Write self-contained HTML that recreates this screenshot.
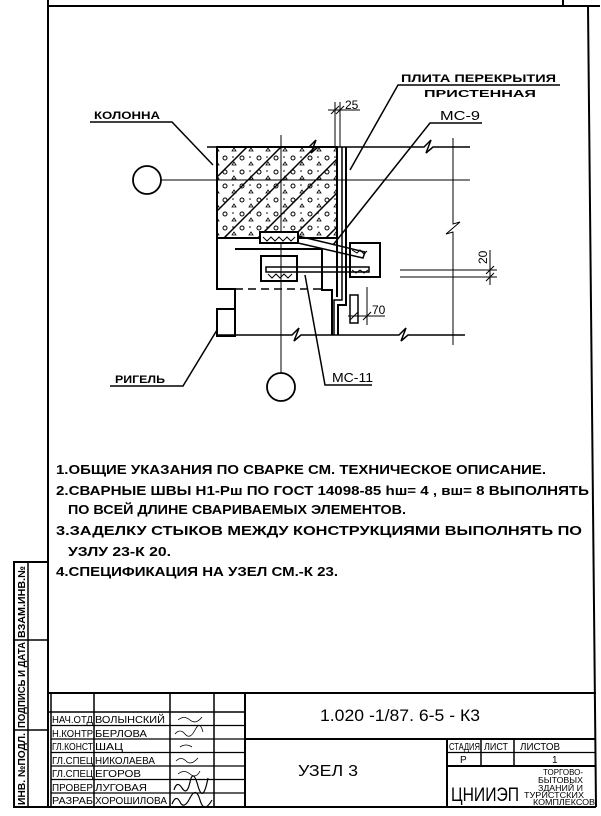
<!DOCTYPE html>
<html><head><meta charset="utf-8"><style>
html,body{margin:0;padding:0;background:#fff;}
svg{display:block;font-family:"Liberation Sans","DejaVu Sans",sans-serif;}
text{fill:#000;}
</style></head><body>
<svg width="601" height="816" viewBox="0 0 601 816" xmlns="http://www.w3.org/2000/svg">
<defs>
<pattern id="d" width="17" height="14" patternUnits="userSpaceOnUse">
<circle cx="4" cy="4" r="2" fill="none" stroke="#000" stroke-width="1"/>
<path d="M11 11 l2 -3 l2 3 z" fill="none" stroke="#000" stroke-width="0.8"/>
<circle cx="12" cy="3" r="0.8" fill="#000"/>
</pattern>
<clipPath id="cc"><rect x="217" y="147" width="120" height="91"/></clipPath>
</defs>
<g stroke="#000" fill="none" stroke-width="2">
<line x1="48" y1="6" x2="600" y2="6"/>
<line x1="48" y1="0" x2="48" y2="807"/>
<line x1="588" y1="6" x2="596" y2="807"/>
<line x1="563" y1="0" x2="563" y2="6"/>
<line x1="14" y1="807" x2="596" y2="807"/>
<rect x="14" y="562" width="34" height="245"/>
<line x1="28" y1="562" x2="28" y2="807" stroke-width="1.5"/>
<line x1="14" y1="640" x2="48" y2="640" stroke-width="1.5"/>
<line x1="14" y1="730" x2="48" y2="730" stroke-width="1.5"/>
<line x1="48" y1="693" x2="596" y2="693"/>
<line x1="48" y1="712" x2="245" y2="712" stroke-width="1.5"/>
<line x1="51" y1="693" x2="51" y2="807" stroke-width="1.5"/>
<line x1="94" y1="693" x2="94" y2="807" stroke-width="1.5"/>
<line x1="170" y1="693" x2="170" y2="807" stroke-width="1.5"/>
<line x1="214" y1="693" x2="214" y2="807" stroke-width="1.5"/>
<line x1="245" y1="693" x2="245" y2="807" stroke-width="2"/>
<g stroke-width="1.2">
<line x1="51" y1="725.5" x2="245" y2="725.5"/>
<line x1="51" y1="739" x2="245" y2="739"/>
<line x1="51" y1="752.5" x2="245" y2="752.5"/>
<line x1="51" y1="766" x2="245" y2="766"/>
<line x1="51" y1="779.5" x2="245" y2="779.5"/>
<line x1="51" y1="793" x2="245" y2="793"/>
</g>
<line x1="245" y1="739" x2="596" y2="739" stroke-width="2"/>
<line x1="447" y1="739" x2="447" y2="807" stroke-width="2"/>
<line x1="447" y1="752.5" x2="596" y2="752.5" stroke-width="1.2"/>
<line x1="447" y1="766" x2="596" y2="766" stroke-width="2"/>
<line x1="481" y1="739" x2="481" y2="766" stroke-width="1.5"/>
<line x1="514" y1="739" x2="514" y2="766" stroke-width="1.5"/>
</g>

<g stroke="#000" fill="none" stroke-width="1.5">
<rect x="217" y="147" width="120" height="91" fill="url(#d)" stroke="none"/>
<g clip-path="url(#cc)" stroke-width="1.5">
<line x1="217" y1="177" x2="247" y2="147"/>
<line x1="217" y1="211" x2="281" y2="147"/>
<line x1="217" y1="245" x2="315" y2="147"/>
<line x1="244" y1="252" x2="349" y2="147"/>
<line x1="278" y1="252" x2="383" y2="147"/>
<line x1="312" y1="252" x2="417" y2="147"/>
</g>
<rect x="217" y="147" width="120" height="91" stroke-width="2"/>
<path d="M207 147 H309 L316 140 L311 153 L318 147 H424 L431 140 L426 153 L433 147 H470"/>
<line x1="161" y1="180" x2="470" y2="180" stroke-width="1"/>
<circle cx="147" cy="180" r="14" stroke-width="1.8"/>
<line x1="281" y1="135" x2="281" y2="373" stroke-width="1"/>
<circle cx="281" cy="387" r="14" stroke-width="1.8"/>
<path d="M217 238 V289 H235 V336" stroke-width="2"/>
<rect x="217" y="309" width="18" height="27" stroke-width="2"/>
<path d="M235 249 H322 V290 H332 V335" stroke-width="2"/>
<line x1="235" y1="289" x2="322" y2="289" stroke-dasharray="8,5"/>
<path d="M337 147 V297" stroke-width="2"/>
<path d="M342 147 V300 H334 V335"/>
<path d="M346 147 V305 H338 V335" stroke-width="2"/>
<rect x="350" y="295" width="8" height="28"/>
<rect x="260" y="232" width="38" height="11" stroke-width="2" fill="#fff"/>
<path d="M263 237 l4 4 l4 -4 l4 4 l4 -4 l4 4 l4 -4 l4 4 l4 -4" stroke-width="1"/>
<path d="M298 236 L365 252 L363 258 L298 243"/>
<rect x="350" y="243" width="30" height="34" stroke-width="2"/>
<path d="M352 250 l5 3 l3 -3 l4 4 l3 -3 M352 270 l4 3 l4 -3 l4 3 l4 -3" stroke-width="1"/>
<rect x="261" y="256" width="36" height="25" stroke-width="2"/>
<rect x="266" y="267" width="103" height="5" stroke-width="1.5"/>
<path d="M268 274 l4 4 l4 -4 l4 4 l4 -4 l4 4 l4 -4" stroke-width="1"/>
<path d="M217 335 H292 L299 328 L294 341 L301 335 H399 L406 328 L401 341 L408 335 H465"/>
<path d="M453 138 V224 L460 222 L446 234 L453 232 V345" stroke-width="1"/>
<line x1="400" y1="270" x2="497" y2="270" stroke-width="1"/>
<line x1="400" y1="277" x2="497" y2="277" stroke-width="1"/>
<line x1="490" y1="250" x2="490" y2="285" stroke-width="1"/>
<path d="M486 274 l8 -8 M486 281 l8 -8" stroke-width="1"/>
<line x1="335" y1="102" x2="335" y2="147" stroke-width="1"/>
<line x1="340" y1="102" x2="340" y2="147" stroke-width="1"/>
<line x1="328" y1="110" x2="360" y2="110" stroke-width="1"/>
<path d="M331 114 l8 -8 M336 114 l8 -8" stroke-width="1"/>
<line x1="367" y1="287" x2="367" y2="325" stroke-width="1"/>
<line x1="348" y1="316" x2="385" y2="316" stroke-width="1"/>
<path d="M350 320 l8 -8 M363 320 l8 -8" stroke-width="1"/>
<path d="M90 122 H172 L213 165" stroke-width="1.5"/>
<path d="M560 85 H398 L350 170" stroke-width="1.5"/>
<path d="M482 123 H430 L333 245" stroke-width="1.5"/>
<path d="M372 385 H325 L305 275" stroke-width="1.5"/>
<path d="M110 386 H183 L217 330" stroke-width="1.5"/>
</g>

<g font-size="11" font-weight="bold">
<text x="94" y="119" textLength="66" lengthAdjust="spacingAndGlyphs">КОЛОННА</text>
<text x="401" y="82" textLength="155" lengthAdjust="spacingAndGlyphs">ПЛИТА ПЕРЕКРЫТИЯ</text>
<text x="424" y="97" textLength="112" lengthAdjust="spacingAndGlyphs" font-size="10">ПРИСТЕННАЯ</text>
<text x="440" y="120" textLength="40" lengthAdjust="spacingAndGlyphs" font-size="13" font-weight="normal">МС-9</text>
<text x="332" y="382" textLength="41" lengthAdjust="spacingAndGlyphs" font-size="13" font-weight="normal">МС-11</text>
<text x="115" y="383" textLength="50" lengthAdjust="spacingAndGlyphs">РИГЕЛЬ</text>
<text x="345" y="109" font-size="12" font-weight="normal">25</text>
<text x="372" y="314" font-size="12" font-weight="normal">70</text>
<text x="0" y="0" font-size="12" font-weight="normal" transform="translate(487,264) rotate(-90)">20</text>
</g>

<g font-size="13" font-weight="bold">
<text x="56" y="474" textLength="490" lengthAdjust="spacingAndGlyphs">1.ОБЩИЕ УКАЗАНИЯ  ПО  СВАРКЕ  СМ. ТЕХНИЧЕСКОЕ  ОПИСАНИЕ.</text>
<text x="56" y="495" textLength="533" lengthAdjust="spacingAndGlyphs">2.СВАРНЫЕ  ШВЫ  Н1-Рш  ПО ГОСТ 14098-85  hш= 4 , вш= 8  ВЫПОЛНЯТЬ</text>
<text x="68" y="514" textLength="338" lengthAdjust="spacingAndGlyphs">ПО ВСЕЙ  ДЛИНЕ  СВАРИВАЕМЫХ  ЭЛЕМЕНТОВ.</text>
<text x="56" y="535" textLength="526" lengthAdjust="spacingAndGlyphs">3.ЗАДЕЛКУ  СТЫКОВ  МЕЖДУ  КОНСТРУКЦИЯМИ  ВЫПОЛНЯТЬ  ПО</text>
<text x="68" y="556" textLength="103" lengthAdjust="spacingAndGlyphs">УЗЛУ 23-К 20.</text>
<text x="56" y="576" textLength="282" lengthAdjust="spacingAndGlyphs">4.СПЕЦИФИКАЦИЯ  НА  УЗЕЛ  СМ.-К 23.</text>
</g>

<g font-size="10" font-weight="bold">
<text transform="translate(25,638) rotate(-90)" textLength="72" lengthAdjust="spacingAndGlyphs">ВЗАМ.ИНВ.№</text>
<text transform="translate(25,728) rotate(-90)" textLength="86" lengthAdjust="spacingAndGlyphs">ПОДПИСЬ И ДАТА</text>
<text transform="translate(25,805) rotate(-90)" textLength="72" lengthAdjust="spacingAndGlyphs">ИНВ. №ПОДЛ.</text>
</g>

<g font-size="10">
<text x="52" y="723" textLength="41" lengthAdjust="spacingAndGlyphs">НАЧ.ОТД</text>
<text x="95" y="723" textLength="70" lengthAdjust="spacingAndGlyphs">ВОЛЫНСКИЙ</text>
<text x="52" y="737" textLength="41" lengthAdjust="spacingAndGlyphs">Н.КОНТР</text>
<text x="95" y="737" textLength="52" lengthAdjust="spacingAndGlyphs">БЕРЛОВА</text>
<text x="52" y="750" textLength="41" lengthAdjust="spacingAndGlyphs">ГЛ.КОНСТ</text>
<text x="95" y="750" textLength="28" lengthAdjust="spacingAndGlyphs">ШАЦ</text>
<text x="52" y="764" textLength="41" lengthAdjust="spacingAndGlyphs">ГЛ.СПЕЦ</text>
<text x="95" y="764" textLength="60" lengthAdjust="spacingAndGlyphs">НИКОЛАЕВА</text>
<text x="52" y="777" textLength="41" lengthAdjust="spacingAndGlyphs">ГЛ.СПЕЦ</text>
<text x="95" y="777" textLength="46" lengthAdjust="spacingAndGlyphs">ЕГОРОВ</text>
<text x="52" y="791" textLength="41" lengthAdjust="spacingAndGlyphs">ПРОВЕР</text>
<text x="95" y="791" textLength="52" lengthAdjust="spacingAndGlyphs">ЛУГОВАЯ</text>
<text x="52" y="804" textLength="41" lengthAdjust="spacingAndGlyphs">РАЗРАБ</text>
<text x="95" y="804" textLength="72" lengthAdjust="spacingAndGlyphs">ХОРОШИЛОВА</text>
<text x="449" y="750" textLength="31" lengthAdjust="spacingAndGlyphs">СТАДИЯ</text>
<text x="484" y="750" textLength="24" lengthAdjust="spacingAndGlyphs">ЛИСТ</text>
<text x="520" y="750" textLength="40" lengthAdjust="spacingAndGlyphs">ЛИСТОВ</text>
<text x="460" y="763">Р</text>
<text x="552" y="763">1</text>
</g>
<text x="320" y="721" font-size="17" textLength="160" lengthAdjust="spacingAndGlyphs">1.020 -1/87. 6-5 - К3</text>
<text x="298" y="776" font-size="16" textLength="60" lengthAdjust="spacingAndGlyphs">УЗЕЛ 3</text>
<text x="451" y="801" font-size="19" textLength="68" lengthAdjust="spacingAndGlyphs">ЦНИИЭП</text>
<g font-size="8">
<text x="543" y="775" textLength="40" lengthAdjust="spacingAndGlyphs">ТОРГОВО-</text>
<text x="538" y="783" textLength="45" lengthAdjust="spacingAndGlyphs">БЫТОВЫХ</text>
<text x="538" y="791" textLength="45" lengthAdjust="spacingAndGlyphs">ЗДАНИЙ И</text>
<text x="524" y="798" textLength="60" lengthAdjust="spacingAndGlyphs">ТУРИСТСКИХ</text>
<text x="533" y="805" textLength="62" lengthAdjust="spacingAndGlyphs">КОМПЛЕКСОВ</text>
</g>
<g stroke="#000" fill="none" stroke-width="0.8">
<path d="M178 720 q6 -5 12 0 t12 -3"/>
<path d="M175 734 q5 -6 10 0 t10 -4 t8 2"/>
<path d="M180 747 q6 -4 12 0"/>
<path d="M176 761 q5 -5 10 0 t12 -3"/>
<path d="M178 774 q6 -5 12 0 t10 -3"/>
<path d="M174 790 q3 -10 8 -2 t8 -6 t8 4 t10 -8" stroke-width="1.2"/>
<path d="M172 804 q4 -10 8 -2 t10 -4 t10 2 t12 0" stroke-width="1.2"/>
</g>
</svg>
</body></html>
